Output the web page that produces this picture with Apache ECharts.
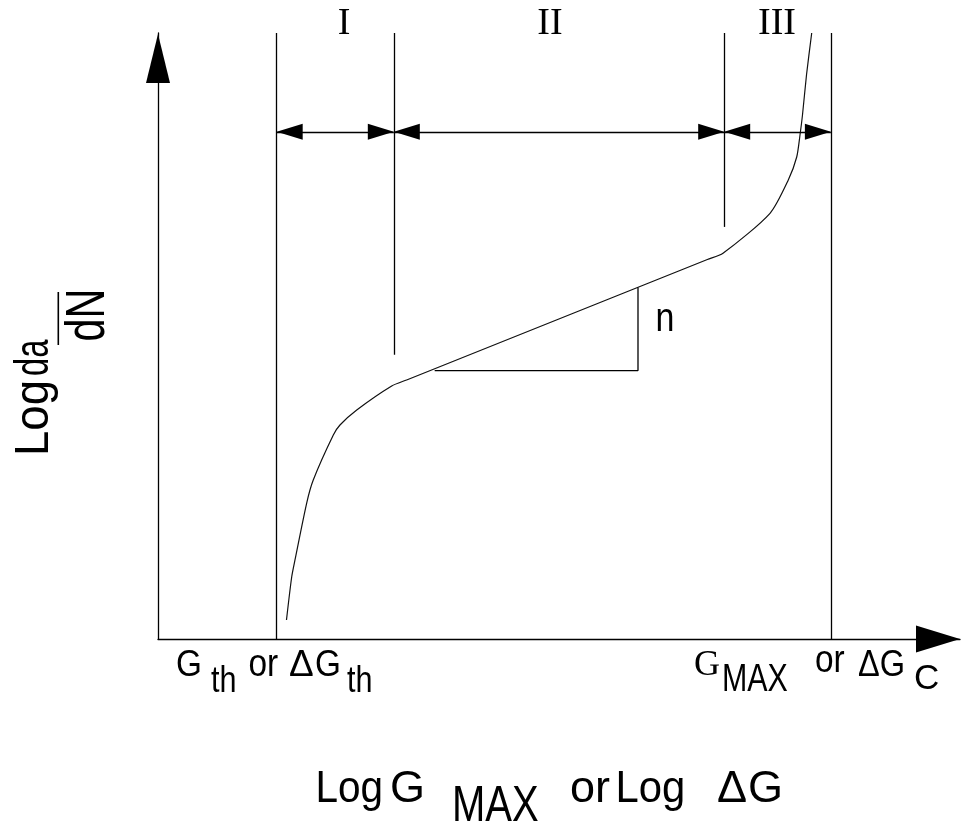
<!DOCTYPE html>
<html>
<head>
<meta charset="utf-8">
<script src="https://cdn.jsdelivr.net/npm/echarts@6/dist/echarts.min.js"></script>
<style>
  html, body { margin: 0; padding: 0; background: #fff; }
  #chart { width: 961px; height: 828px; }
</style>
</head>
<body>
<div id="chart"></div>
<script>
// Region boundaries on the log G axis: threshold, end of I, end of II, critical value
const boundaryX = [14.8, 29.4, 70.6, 83.9];
const boundaryLow = [0, 46.9, 68.0, 0];
const boundaryHigh = 100;
// Height of the double-headed span arrows
const spanLevel = 83.7;

// Sigmoidal crack-growth curve (log G, log da/dN)
const curveX = [16.02, 16.67, 17.08, 18.54, 19.36, 21.86, 22.69, 24.78, 29.14, 31.0, 68.5, 70.45, 76.31, 78.59, 79.64, 80.05, 80.36, 80.86, 81.51];
const curveY = [3.14, 10.23, 13.04, 22.44, 26.24, 33.66, 35.31, 37.79, 41.75, 42.74, 62.62, 63.65, 70.25, 75.74, 79.54, 83.17, 86.47, 93.07, 100];

// Slope triangle on the Paris-law segment
const slopeX = [34.5, 59.85, 59.85];
const slopeY = [44.3, 44.3, 58.0];

const INK = '#000';
const HEAD = [16, 26];

function pairs(xs, ys) { return xs.map((x, i) => [x, ys[i]]); }

// Text piece placed by its baseline; scaleX condenses the glyphs
function txt(str, x, base, size, o) {
  o = o || {};
  return {
    type: 'text', silent: true,
    x: x, y: base - 0.31 * size,
    scaleX: o.sx || 1,
    style: {
      text: str,
      fontFamily: o.serif ? 'Liberation Serif' : 'Liberation Sans',
      fontSize: size, fill: INK,
      align: o.align || 'left', verticalAlign: 'middle'
    }
  };
}
// Text reading bottom-to-top, baseline at page x = baseX, starting at page y = startY
function vtxt(str, baseX, startY, size, sx) {
  return {
    type: 'text', silent: true,
    x: baseX - 0.31 * size, y: startY,
    rotation: Math.PI / 2, scaleX: sx || 1,
    style: {
      text: str, fontFamily: 'Liberation Sans', fontSize: size, fill: INK,
      align: 'left', verticalAlign: 'middle'
    }
  };
}

const boundaryLines = boundaryX.map((x, i) => [
  { coord: [x, boundaryLow[i]] }, { coord: [x, boundaryHigh] }
]);
const spanLines = boundaryX.slice(0, -1).map((x, i) => [
  { coord: [x, spanLevel], symbolSize: HEAD },
  { coord: [boundaryX[i + 1], spanLevel], symbolSize: HEAD }
]);

const chart = echarts.init(document.getElementById('chart'), null, { renderer: 'canvas' });
chart.setOption({
  animation: false,
  backgroundColor: '#fff',
  grid: { left: 158, right: 1, top: 33, bottom: 189 },
  xAxis: {
    type: 'value', min: 0, max: 100,
    axisLine: {
      show: true, onZero: false,
      lineStyle: { color: INK, width: 1.3 },
      symbol: ['none', 'triangle'], symbolSize: [27, 44], symbolOffset: [0, -22]
    },
    axisTick: { show: false }, axisLabel: { show: false }, splitLine: { show: false }
  },
  yAxis: {
    type: 'value', min: 0, max: 100,
    axisLine: {
      show: true, onZero: false,
      lineStyle: { color: INK, width: 1.3 },
      symbol: ['none', 'triangle'], symbolSize: [24, 49], symbolOffset: [0, -25.5]
    },
    axisTick: { show: false }, axisLabel: { show: false }, splitLine: { show: false }
  },
  series: [
    {
      name: 'da/dN', type: 'line', data: pairs(curveX, curveY),
      showSymbol: false, symbol: 'none', smooth: 0.25, silent: true,
      lineStyle: { color: '#111', width: 1.2 }
    },
    {
      name: 'slope', type: 'line', data: pairs(slopeX, slopeY),
      showSymbol: false, symbol: 'none', silent: true,
      lineStyle: { color: INK, width: 1.3 }
    },
    {
      name: 'boundaries', type: 'line', data: [],
      markLine: {
        silent: true, symbol: ['none', 'none'], label: { show: false },
        lineStyle: { color: INK, width: 1.3, type: 'solid' },
        data: boundaryLines
      }
    },
    {
      name: 'spans', type: 'line', data: [],
      markLine: {
        silent: true, symbol: ['triangle', 'triangle'],
        symbolOffset: [[0, 13], [0, 13]],
        label: { show: false },
        lineStyle: { color: INK, width: 1.3, type: 'solid' },
        itemStyle: { color: INK },
        data: spanLines
      }
    }
  ],
  graphic: [
    // region numerals
    txt('I', 344, 35.3, 38, { serif: true, align: 'center' }),
    txt('II', 550, 35.3, 38, { serif: true, align: 'center' }),
    txt('III', 777, 35.5, 38, { serif: true, align: 'center' }),
    // slope exponent
    txt('n', 655.6, 332.7, 40, { sx: 0.85 }),
    // threshold label
    txt('G', 176, 677, 37, { sx: 0.9 }),
    txt('th', 211, 693, 36, { sx: 0.85 }),
    txt('or', 248.5, 677, 38, { sx: 0.88 }),
    txt('\u0394', 289, 677, 37),
    txt('G', 315, 677, 37, { sx: 0.9 }),
    txt('th', 347, 693, 36, { sx: 0.85 }),
    // critical label
    txt('G', 694, 677, 36, { serif: true }),
    txt('MAX', 722, 692.7, 38, { sx: 0.8 }),
    txt('or', 815, 673.5, 38, { sx: 0.88 }),
    txt('\u0394G', 858, 677, 37, { sx: 0.88 }),
    txt('C', 914, 690, 35),
    // x-axis title
    txt('Log', 315.5, 803.3, 45, { sx: 0.9 }),
    txt('G', 390, 803.3, 45),
    txt('MAX', 452, 822.7, 50, { sx: 0.8 }),
    txt('or', 570, 803.3, 45),
    txt('Log', 615.5, 803.3, 45, { sx: 0.93 }),
    txt('\u0394', 717, 803.3, 45),
    txt('G', 748, 803.3, 45),
    // y-axis title: Log da/dN
    vtxt('Log', 50, 456, 48, 0.95),
    vtxt('da', 50, 376, 48, 0.68),
    { type: 'line', silent: true, shape: { x1: 58.3, y1: 292, x2: 58.3, y2: 345 },
      style: { stroke: INK, lineWidth: 1.6 } },
    vtxt('dN', 106, 341.5, 55, 0.75)
  ]
});
</script>
</body>
</html>
